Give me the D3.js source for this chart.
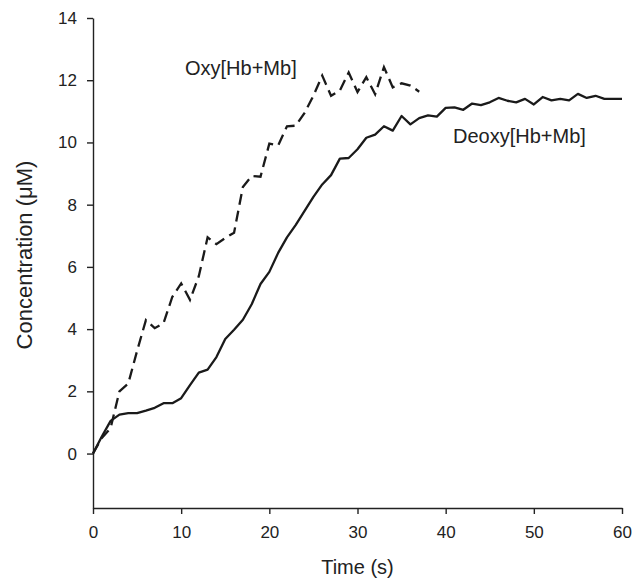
<!DOCTYPE html>
<html>
<head>
<meta charset="utf-8">
<script src="https://d3js.org/d3.v7.min.js"></script>
<style>
  body { margin: 0; background: #fff; }
  text { font-family: "Liberation Sans", Arial, sans-serif; fill: #222; }
</style>
</head>
<body>
<script>
// values
var deoxyTime = d3.range(0, 61);
var deoxy = [0, 0.55, 1.05, 1.25, 1.3, 1.3, 1.38, 1.47, 1.62, 1.62,
  1.78, 2.2, 2.6, 2.7, 3.1, 3.68, 3.98, 4.3, 4.8, 5.45,
  5.84, 6.45, 6.95, 7.35, 7.8, 8.25, 8.65, 8.95, 9.48, 9.5,
  9.78, 10.15, 10.25, 10.52, 10.38, 10.85, 10.58, 10.78, 10.87, 10.83,
  11.11, 11.13, 11.05, 11.25, 11.2, 11.29, 11.43, 11.34, 11.29, 11.4,
  11.22, 11.46, 11.35, 11.4, 11.35, 11.56, 11.43, 11.5, 11.4, 11.4, 11.4];

var oxyTime = d3.range(0, 38);
var oxy = [0, 0.5, 0.82, 2.0, 2.25, 3.3, 4.29, 4.03, 4.19, 5.04,
  5.47, 4.94, 5.7, 6.95, 6.73, 6.93, 7.1, 8.57, 8.92, 8.9,
  9.96, 9.9, 10.52, 10.54, 10.95, 11.5, 12.15, 11.5, 11.67, 12.25,
  11.62, 12.1, 11.55, 12.42, 11.77, 11.9, 11.83, 11.63];

var xTicks = [0, 10, 20, 30, 40, 50, 60];
var yTicks = [0, 2, 4, 6, 8, 10, 12, 14];

var margin = {top: 18, right: 22, bottom: 71, left: 93};
var width = 644 - margin.left - margin.right;
var height = 579 - margin.top - margin.bottom;

var svg = d3.select("body")
  .append("svg")
    .attr("width", 644)
    .attr("height", 579)
  .append("g")
    .attr("transform", "translate(" + margin.left + "," + margin.top + ")");

var x = d3.scaleLinear().domain([0, 60]).range([0, width]);
var y = d3.scaleLinear().domain([-1.75, 14]).range([height, 0]);

var xAxis = svg.append("g")
  .attr("transform", "translate(0," + height + ")")
  .call(d3.axisBottom(x).tickValues(xTicks).tickSize(6).tickSizeOuter(0).tickPadding(12));
var yAxis = svg.append("g")
  .call(d3.axisLeft(y).tickValues(yTicks).tickSize(6).tickSizeOuter(0).tickPadding(10));

[xAxis, yAxis].forEach(function(a) {
  a.selectAll("path, line").attr("stroke", "#222").attr("stroke-width", 1.4);
  a.selectAll("text").style("font-size", "17px").style("font-family", "Liberation Sans, Arial, sans-serif").attr("fill", "#222");
});

var line = d3.line()
  .x(function(d) { return x(d[0]); })
  .y(function(d) { return y(d[1]); });

svg.append("path")
  .datum(d3.zip(deoxyTime, deoxy))
  .attr("fill", "none")
  .attr("stroke", "#1a1a1a")
  .attr("stroke-width", 2.3)
  .attr("stroke-linejoin", "round")
  .attr("d", line);

svg.append("path")
  .datum(d3.zip(oxyTime, oxy))
  .attr("fill", "none")
  .attr("stroke", "#1a1a1a")
  .attr("stroke-width", 2.3)
  .attr("stroke-dasharray", "11,6")
  .attr("d", line);

svg.append("text")
  .attr("x", 185 - margin.left)
  .attr("y", 75 - margin.top)
  .style("font-size", "20px")
  .text("Oxy[Hb+Mb]");

svg.append("text")
  .attr("x", 453 - margin.left)
  .attr("y", 143 - margin.top)
  .style("font-size", "20px")
  .text("Deoxy[Hb+Mb]");

svg.append("text")
  .attr("x", width / 2)
  .attr("y", height + 66)
  .attr("text-anchor", "middle")
  .style("font-size", "20px")
  .text("Time (s)");

svg.append("text")
  .attr("transform", "translate(" + (32 - margin.left) + "," + (255 - margin.top) + ") rotate(-90)")
  .attr("text-anchor", "middle")
  .style("font-size", "22px")
  .text("Concentration (\u03bcM)");
</script>
</body>
</html>
